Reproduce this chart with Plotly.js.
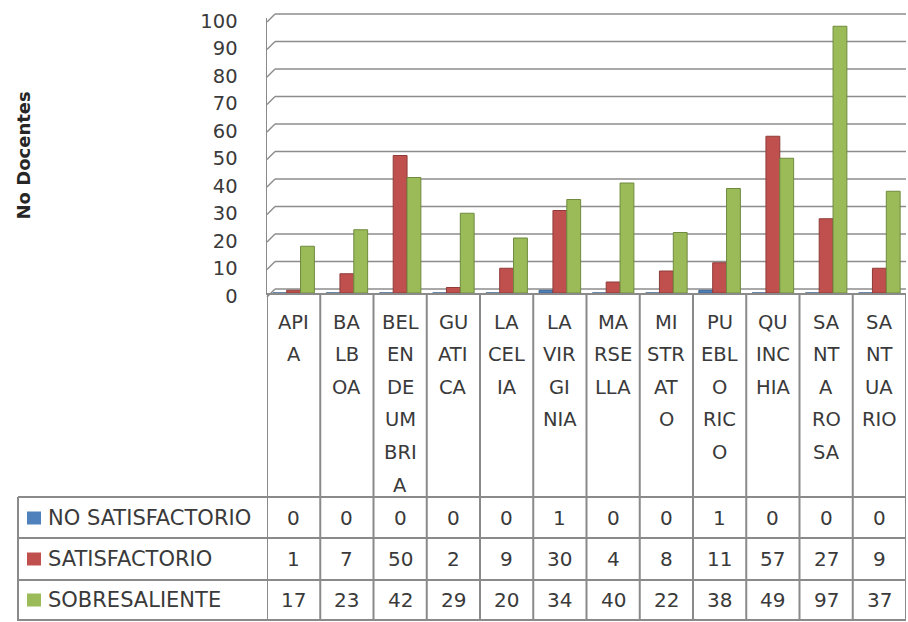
<!DOCTYPE html>
<html>
<head>
<meta charset="utf-8">
<script src="https://cdn.plot.ly/plotly-3.0.1.min.js"></script>
<style>html,body{margin:0;padding:0;background:#fff;}#chart{width:908px;height:622px;}</style>
</head>
<body>
<div id="chart"></div>
<script>
const categories = ["APIA","BALBOA","BELEN DE UMBRIA","GUATICA","LA CELIA","LA VIRGINIA","MARSELLA","MISTRATO","PUEBLO RICO","QUINCHIA","SANTA ROSA","SANTUARIO"];
const categoryLines = [["API","A"],["BA","LB","OA"],["BEL","EN","DE","UM","BRI","A"],["GU","ATI","CA"],["LA","CEL","IA"],["LA","VIR","GI","NIA"],["MA","RSE","LLA"],["MI","STR","AT","O"],["PU","EBL","O","RIC","O"],["QU","INC","HIA"],["SA","NT","A","RO","SA"],["SA","NT","UA","RIO"]];
const seriesNames = ["NO SATISFACTORIO","SATISFACTORIO","SOBRESALIENTE"];
const noSatisfactorio = [0,0,0,0,0,1,0,0,1,0,0,0];
const satisfactorio = [1,7,50,2,9,30,4,8,11,57,27,9];
const sobresaliente = [17,23,42,29,20,34,40,22,38,49,97,37];
const yTicks = [0,10,20,30,40,50,60,70,80,90,100];
const yTitle = "No Docentes";

const seriesValues = [noSatisfactorio, satisfactorio, sobresaliente];
const colors = ["#4F81BD","#C0504D","#9BBB59"];
const edgeColors = ["#3a5f8c","#8e3b39","#6f8a3e"];

const W = 908, H = 622;
const L = 267, R = 906, T = 18, B = 293;
const PW = R - L, PH = B - T;
const px = x => (x - L) / PW;
const py = y => (B - y) / PH;
const FONT = "DejaVu Sans";
const TXT = "#3a3a3a";
const LINE = "#8a8a8a";
const YMAX = 100;

const traces = seriesNames.map((name, k) => ({
  type: "bar",
  name: name,
  x: categories,
  y: seriesValues[k],
  marker: {color: colors[k], line: {color: edgeColors[k], width: 1}},
  showlegend: false,
  hoverinfo: "x+y+name"
}));

const shapes = [];
const annotations = [];

// 3D-style gridlines on the back wall (decoration following the y scale)
yTicks.forEach(v => {
  const frac = v / YMAX;
  const dy = 4 / PH;
  shapes.push({type: "line", layer: "below", xref: "paper", yref: "paper", x0: px(275), x1: 1,
    y0: frac + dy, y1: frac + dy, line: {color: "#8c8c8c", width: 1.5}});
  shapes.push({type: "line", layer: "below", xref: "paper", yref: "paper", x0: 0, x1: px(275),
    y0: frac - dy, y1: frac + dy, line: {color: "#8c8c8c", width: 1.5}});
});

// table vertical lines at category boundaries
for (let i = 0; i <= categories.length; i++) {
  shapes.push({type: "line", xref: "x", yref: "paper", x0: i - 0.5, x1: i - 0.5,
    y0: py(295), y1: py(621), line: {color: LINE, width: 2}});
}
// legend column left border
shapes.push({type: "line", xref: "paper", yref: "paper", x0: px(18), x1: px(18),
  y0: py(497), y1: py(621), line: {color: LINE, width: 2}});
// table horizontal lines
[497, 538, 580, 620].forEach(yy => {
  shapes.push({type: "line", xref: "paper", yref: "paper", x0: px(18), x1: 1,
    y0: py(yy), y1: py(yy), line: {color: LINE, width: 2}});
});

// category labels (wrapped)
categories.forEach((c, i) => {
  categoryLines[i].forEach((ln, j) => {
    annotations.push({xref: "x", yref: "paper", x: c, y: 0, yanchor: "middle", xanchor: "center",
      yshift: -(29 + 32.6 * j), text: ln, showarrow: false, font: {family: FONT, size: 19.5, color: TXT}});
  });
});

// table rows
const rowCenters = [518, 559, 600];
seriesNames.forEach((name, k) => {
  const yc = rowCenters[k];
  shapes.push({type: "rect", xref: "paper", yref: "paper", x0: px(27), x1: px(41),
    y0: py(yc + 6.5), y1: py(yc - 6.5), fillcolor: colors[k], line: {width: 0}});
  annotations.push({xref: "paper", yref: "paper", x: px(46), y: py(yc), xanchor: "left", yanchor: "middle",
    text: name, showarrow: false, font: {family: FONT, size: 21, color: TXT}});
  seriesValues[k].forEach((v, i) => {
    annotations.push({xref: "x", yref: "paper", x: categories[i], y: py(yc), xanchor: "center", yanchor: "middle",
      text: String(v), showarrow: false, font: {family: FONT, size: 20, color: TXT}});
  });
});

// y axis title
annotations.push({xref: "paper", yref: "paper", x: px(23), y: 0.5, xanchor: "center", yanchor: "middle",
  textangle: -90, text: "<b>" + yTitle + "</b>", showarrow: false, font: {family: FONT, size: 18, color: "#262626"}});

const layout = {
  width: W, height: H,
  margin: {l: L, r: W - R, t: T, b: H - B, pad: 0},
  paper_bgcolor: "#ffffff", plot_bgcolor: "rgba(0,0,0,0)",
  barmode: "group", bargap: 0.22, bargroupgap: 0,
  xaxis: {type: "category", range: [-0.5, categories.length - 0.5], showticklabels: false, ticks: "",
    showgrid: false, showline: true, linecolor: LINE, linewidth: 2, zeroline: false, fixedrange: true},
  yaxis: {range: [0, YMAX], tickvals: yTicks, ticktext: yTicks.map(String), showgrid: false,
    showline: true, linecolor: LINE, linewidth: 1.5, zeroline: false, ticks: "", ticklabelstandoff: 24,
    ticklabelshift: 3,
    tickfont: {family: FONT, size: 19.5, color: TXT}, fixedrange: true},
  shapes: shapes,
  annotations: annotations,
  showlegend: false
};

Plotly.newPlot("chart", traces, layout, {displayModeBar: false, staticPlot: true});
</script>
</body>
</html>
